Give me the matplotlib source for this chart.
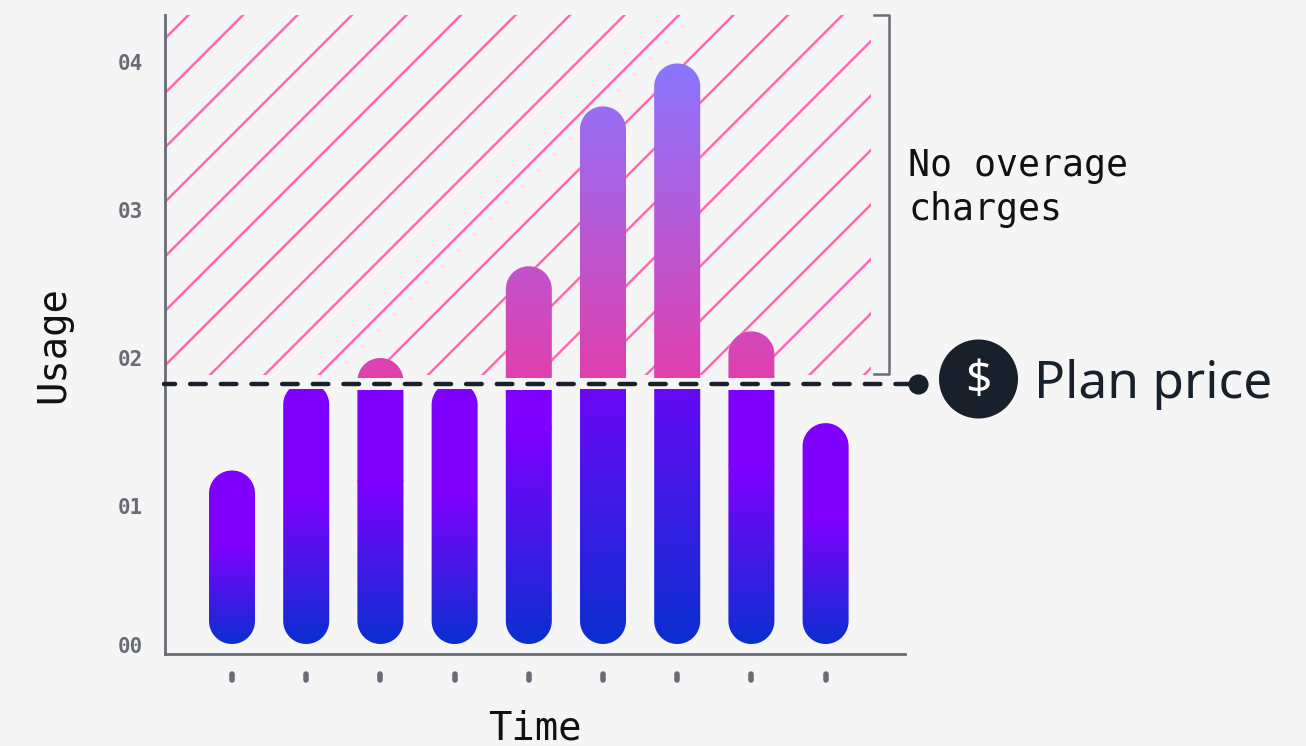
import numpy as np
import matplotlib
matplotlib.use("Agg")
import matplotlib.pyplot as plt
from matplotlib.collections import LineCollection
from matplotlib.colors import LinearSegmentedColormap
from matplotlib.patches import Circle, PathPatch
from matplotlib.path import Path
from matplotlib.transforms import IdentityTransform

W, H = 1306, 746

# values
usage = [1.24, 1.84, 2.00, 1.84, 2.62, 3.70, 3.99, 2.18, 1.56]
plan_price = 1.824
y_ticks = [1, 2, 3, 4]
y_labels = ["01", "02", "03", "04"]

BG = "#f5f5f5"
AXIS = "#686c75"
DARK = "#17202b"
PINK = "#ff69b4"
MONO = "DejaVu Sans Mono"

low_cmap = LinearSegmentedColormap.from_list("low", ["#0a2fd0", "#8000ff"])
high_cmap = LinearSegmentedColormap.from_list("high", ["#e040ae", "#8a75ff"])

fig = plt.figure(figsize=(W / 100, H / 100), dpi=100, facecolor=BG)
ax = fig.add_axes([165 / W, 1 - 654 / H, 740 / W, 639 / H], facecolor="none")
ax.set_xlim(-0.903, 9.07)
ax.set_ylim(0, 639 / 148)

# hatched zone above the plan price
x0, x1 = 165, 871
y_top, y_bot = H - 15, H - 375
segs = []
for c in np.arange(38.5 - 54.5 * 2, 38.5 + 54.5 * 30, 54.5):
    segs.append([(x0 - 800, H - c - 800), (x0 + 800, H - c + 800)])
hatch_clip = plt.Rectangle((x0, y_bot), x1 - x0, y_top - y_bot, transform=IdentityTransform())
lines = LineCollection(segs, colors=PINK, linewidths=1.8, transform=IdentityTransform(), zorder=1)
ax.add_collection(lines, autolim=False)
lines.set_clip_path(hatch_clip)


def pill_path(xd, yb, yt, r=23):
    # bar outline with half circles on both ends, in display coords
    a = np.linspace(0, np.pi, 40)
    top = np.column_stack([xd + r * np.cos(a), yt - r + r * np.sin(a)])
    bot = np.column_stack([xd - r * np.cos(a), yb + r - r * np.sin(a)])
    return Path(np.vstack([top, bot, top[:1]]), closed=True)


def gradient_segment(xc, bottom, top, seg_lo, seg_hi, cmap, v_lo, v_hi):
    xd = ax.transData.transform((xc, 0))[0]
    yb = ax.transData.transform((0, bottom))[1]
    yt = ax.transData.transform((0, top))[1]
    pill = PathPatch(pill_path(xd, yb, yt), transform=IdentityTransform(), fc="none", ec="none")
    ax.add_patch(pill)
    grad = np.linspace(v_lo, v_hi, 256).reshape(-1, 1)
    im = ax.imshow(grad, extent=(xc - 0.4, xc + 0.4, seg_lo, seg_hi), origin="lower",
                   cmap=cmap, vmin=0, vmax=1, aspect="auto", zorder=3,
                   interpolation="bilinear")
    im.set_clip_path(pill)


bar_bottom = 10 / 148
gap_lo = (654 - 390) / 148
gap_hi = (654 - 378) / 148
for i, v in enumerate(usage):
    top_low = min(v, gap_lo)
    # blue -> violet over the lower part of the whole bar, then flat violet
    reach = (v - bar_bottom) * 0.57
    n = (top_low - bar_bottom) / reach
    if n > 1:
        knee = bar_bottom + reach
        gradient_segment(i, bar_bottom, v, bar_bottom, knee, low_cmap, 0, 1)
        gradient_segment(i, bar_bottom, v, knee, top_low, low_cmap, 1, 1)
    else:
        gradient_segment(i, bar_bottom, v, bar_bottom, top_low, low_cmap, 0, n)
    if v > gap_hi:
        gradient_segment(i, bar_bottom, v, gap_hi, v, high_cmap, 0,
                         (v - gap_hi) / (max(usage) - gap_hi))

ax.set_xlim(-0.903, 9.07)
ax.set_ylim(0, 639 / 148)

# axes
for s in ["top", "right"]:
    ax.spines[s].set_visible(False)
for s in ["left", "bottom"]:
    ax.spines[s].set_color(AXIS)
    ax.spines[s].set_linewidth(2)

ax.set_xticks(range(len(usage)))
ax.set_xticklabels([])
ax.tick_params(axis="x", length=0)
ax.set_yticks(y_ticks)
ax.set_yticklabels(y_labels, fontfamily=MONO, fontweight="bold", fontsize=15, color=AXIS)
ax.tick_params(axis="y", length=0, pad=16)
fig.text(143 / W, 1 - 647 / H, "00", ha="right", va="center", fontfamily=MONO,
         fontweight="bold", fontsize=15, color=AXIS)

# small marks under the axis instead of ticks
for i in range(len(usage)):
    ax.plot([i, i], [-20 / 148, -26 / 148], color=AXIS, lw=4, solid_capstyle="round", clip_on=False)

# plan price line
ax.plot([-0.915, 9.245], [plan_price, plan_price], color=DARK, lw=3.2, zorder=5, clip_on=False,
        linestyle=(1.02, (3.5, 3.4)), dash_capstyle="round")
ax.plot([9.245], [plan_price], "o", color=DARK, ms=13.5, zorder=6, clip_on=False)

# price badge
badge = Circle((978.5, H - 379), 39.5, transform=IdentityTransform(), fc=DARK, ec="none")
fig.add_artist(badge)
fig.text(978.5 / W, 1 - 381 / H, "$", color="white", fontsize=33, ha="center", va="center", family="Noto Sans")
fig.text(1034 / W, 1 - 384 / H, "Plan price", color=DARK, fontsize=37, ha="left", va="center", family="Noto Sans")

# bracket
fig.add_artist(plt.Line2D([874 / W, 889 / W, 889 / W, 874 / W],
                          [1 - 15 / H, 1 - 15 / H, 1 - 374 / H, 1 - 374 / H], color=AXIS, lw=1.8))
fig.text(908 / W, 1 - 187.5 / H, "No overage\ncharges", color="#111111", fontsize=26.3, family=MONO,
         ha="left", va="center", linespacing=1.25)

fig.text(53 / W, 1 - 345 / H, "Usage", rotation=90, color="#111111", fontsize=28, family=MONO, ha="center", va="center")
fig.text(535 / W, 1 - 728 / H, "Time", color="#111111", fontsize=28, family=MONO, ha="center", va="center")

fig.savefig("out.png", dpi=100, facecolor=BG)
